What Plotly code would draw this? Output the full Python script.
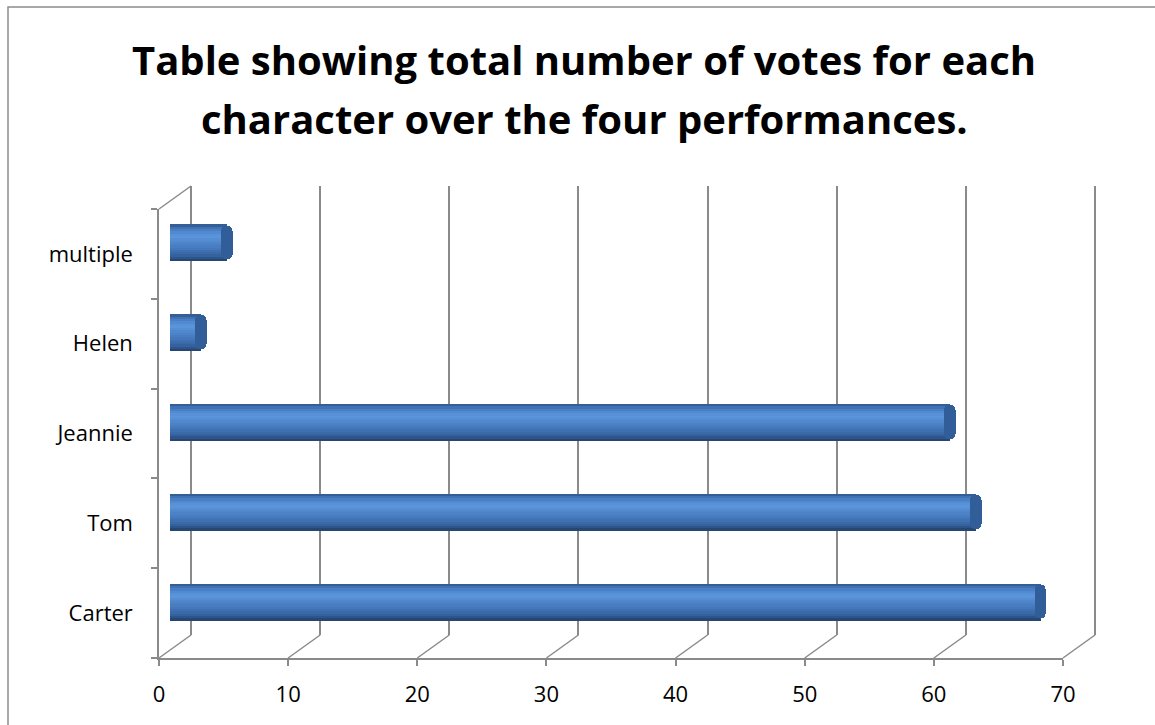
import plotly.graph_objects as go

# ---- data ----
characters = ["Carter", "Tom", "Jeannie", "Helen", "multiple"]
votes = [67, 62, 60, 2, 4]
x_ticks = [0, 10, 20, 30, 40, 50, 60, 70]
x_range = [0, 70]
title_lines = ["Table showing total number of votes for each",
               "character over the four performances."]

# ---- geometry (pixels) ----
W, H = 1155, 725
FX0, FX1 = 159, 1063      # front plane x for 0 and 70
FY0, FY1 = 658, 209       # front plane bottom / top
DX, DY = 32, -23          # depth offset of back wall


def px(x):
    return x / W


def py(y):
    return 1 - y / H


GRID = "#8a8a8a"
FONT = "Open Sans"

fig = go.Figure()

# front plane: axes + labels (invisible bars establish the categories)
fig.add_trace(go.Bar(y=characters, x=votes, orientation="h", xaxis="x", yaxis="y",
                     marker=dict(color="rgba(0,0,0,0)", line=dict(width=0)),
                     hoverinfo="skip", showlegend=False))

# back wall: gridlines only
fig.add_trace(go.Scatter(x=[x_range[0]], y=[characters[0]], xaxis="x2", yaxis="y2",
                         mode="markers", marker=dict(opacity=0), hoverinfo="skip", showlegend=False))

# mid plane: the cylinders, drawn as horizontal stripes to fake the shading
BAR_W = 0.41
CAP = 0.45  # half-width of the cylinder's elliptical end face, in axis units
profile = [  # (position from top 0..1, colour)
    (0.00, (0x2A, 0x4E, 0x7E)),
    (0.06, (0x3C, 0x6C, 0xAC)),
    (0.20, (0x4F, 0x88, 0xCE)),
    (0.32, (0x5C, 0x96, 0xDC)),
    (0.48, (0x50, 0x87, 0xCC)),
    (0.68, (0x42, 0x76, 0xB8)),
    (0.86, (0x34, 0x60, 0x9B)),
    (1.00, (0x22, 0x3E, 0x68)),
]


def colour_at(t):
    for (t0, c0), (t1, c1) in zip(profile[:-1], profile[1:]):
        if t0 <= t <= t1:
            f = (t - t0) / (t1 - t0) if t1 > t0 else 0
            c = [round(a + (b - a) * f) for a, b in zip(c0, c1)]
            return "rgb(%d,%d,%d)" % tuple(c)
    return "rgb(%d,%d,%d)" % profile[-1][1]


N = 16
step = BAR_W / N
for i in range(N):
    t = (i + 0.5) / N
    top = BAR_W / 2 - i * step          # y offset of the stripe's upper edge
    width = step * (1.6 if i < N - 1 else 1.0)
    fig.add_trace(go.Bar(y=characters, x=[v + CAP for v in votes], base=[-CAP] * len(votes),
                         orientation="h", xaxis="x3", yaxis="y3",
                         width=width, offset=top - width,
                         marker=dict(color=colour_at(t), line=dict(width=0)),
                         hoverinfo="skip", showlegend=False))

# darker elliptical end faces at the value end of each cylinder
fig.add_trace(go.Bar(y=characters, x=[2 * CAP] * len(votes), base=[v - CAP for v in votes],
                     orientation="h", xaxis="x3", yaxis="y3",
                     width=BAR_W * 0.94, offset=-BAR_W * 0.47,
                     marker=dict(color="#315E99", line=dict(width=0), cornerradius=7),
                     hoverinfo="skip", showlegend=False))

pad = 0.8
ppu = (FX1 - FX0) / (x_range[1] - x_range[0])
common_cat = dict(type="category", categoryorder="array", categoryarray=characters,
                  range=[-0.5, len(characters) - 0.5], automargin=False)

fig.update_layout(
    width=W, height=H,
    margin=dict(l=0, r=0, t=0, b=0, pad=0, autoexpand=False),
    paper_bgcolor="white", plot_bgcolor="rgba(0,0,0,0)",
    barmode="overlay", bargap=0,
    font=dict(family=FONT, color="black"),
    xaxis=dict(domain=[px(FX0), px(FX1)], range=x_range, anchor="y", automargin=False,
               tickvals=x_ticks, ticktext=[str(v) for v in x_ticks],
               showgrid=False, zeroline=False, showline=True, linecolor=GRID, linewidth=1.5,
               ticks="outside", ticklen=6, tickcolor=GRID, tickwidth=1.5,
               tickfont=dict(size=22, family=FONT), ticklabelstandoff=10),
    yaxis=dict(domain=[py(FY0), py(FY1)], anchor="x", **common_cat,
               showgrid=False, zeroline=False, showline=True, linecolor=GRID, linewidth=1.5,
               ticks="outside", ticklen=6, tickcolor=GRID, tickwidth=1.5, tickson="boundaries",
               tickfont=dict(size=22, family=FONT), ticklabelstandoff=20),
    xaxis2=dict(domain=[px(FX0 + DX - pad * ppu), px(FX1 + DX + pad * ppu)],
                range=[x_range[0] - pad, x_range[1] + pad], automargin=False,
                anchor="y2", tickvals=x_ticks, showticklabels=False,
                showgrid=True, gridcolor=GRID, gridwidth=1.5, zeroline=False, showline=False),
    yaxis2=dict(domain=[py(FY0 + DY), py(FY1 + DY)], anchor="x2", **common_cat,
                showgrid=False, zeroline=False, showline=False, showticklabels=False),
    xaxis3=dict(domain=[px(FX0 + DX / 2 - pad * ppu), px(FX1 + DX / 2 + pad * ppu)],
                range=[x_range[0] - pad, x_range[1] + pad], anchor="y3",
                visible=False, automargin=False),
    yaxis3=dict(domain=[py(FY0 + DY / 2), py(FY1 + DY / 2)], anchor="x3", **common_cat,
                visible=False),
)

# floor / wall diagonals connecting the front axes to the back wall
shapes = []
span = x_range[1] - x_range[0]
for v in x_ticks:
    xf = FX0 + (FX1 - FX0) * (v - x_range[0]) / span
    shapes.append(dict(type="line", xref="paper", yref="paper",
                       x0=px(xf), y0=py(FY0), x1=px(xf + DX), y1=py(FY0 + DY),
                       line=dict(color=GRID, width=1.5)))
shapes.append(dict(type="line", xref="paper", yref="paper",
                   x0=px(FX0), y0=py(FY1), x1=px(FX0 + DX), y1=py(FY1 + DY),
                   line=dict(color=GRID, width=1.5)))
# chart frame
shapes.append(dict(type="rect", xref="paper", yref="paper",
                   x0=px(8), y0=py(7), x1=px(1162), y1=py(735),
                   line=dict(color="#8c8c8c", width=1.5), layer="below"))
fig.update_layout(shapes=shapes)

# title as two centred lines
for line, yc in zip(title_lines, [60, 118]):
    fig.add_annotation(text="<b>" + line + "</b>", x=px(584), y=py(yc), xref="paper", yref="paper",
                       xanchor="center", yanchor="middle", showarrow=False,
                       font=dict(size=40, family=FONT, color="black"))

fig.write_html("out.html")
